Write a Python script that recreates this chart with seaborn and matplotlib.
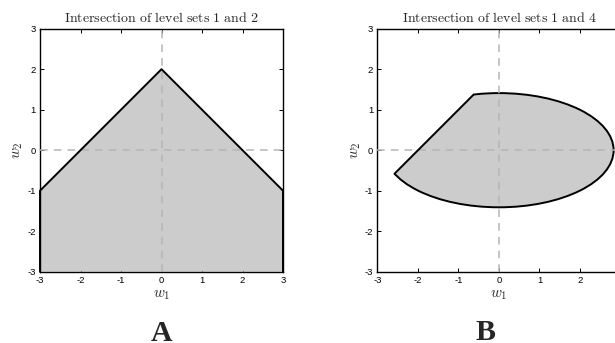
import numpy as np
import matplotlib
matplotlib.use("Agg")
import matplotlib.pyplot as plt
import seaborn as sns
from matplotlib.patches import Ellipse, Polygon

# ---- data ----
# Panel A: boundary of the intersection region (w1, w2 vertices)
a_w1 = [-3, -3, 0, 3, 3]
a_w2 = [-3, -1, 2, -1, -3]
# Panel B: ellipse (centre, semi-axes) cut by a straight line
b_center = (0.0, 0.0)
b_semi_w1 = 2.83
b_semi_w2 = 1.41
b_cut_w1 = [-2.58, -0.62]
b_cut_w2 = [-0.58, 1.38]

ticks = [-3, -2, -1, 0, 1, 2, 3]
tick_labels = ["-3", "-2", "-1", "0", "1", "2", "3"]
titles = ["Intersection of level sets 1 and 2", "Intersection of level sets 1 and 4"]
panel_letters = ["A", "B"]

sns.set_style("ticks")
plt.rcParams["mathtext.fontset"] = "cm"
plt.rcParams["font.family"] = ["Liberation Sans", "DejaVu Sans"]

W, H = 615, 343
fig = plt.figure(figsize=(W / 100, H / 100), dpi=100)

fill_c = "#cccccc"
dash_c = "#b5b5b5"

def px_axes(left, top, w, h):
    return fig.add_axes([left / W, 1 - (top + h) / H, w / W, h / H])

axA = px_axes(40, 28.7, 243, 243)
axB = px_axes(377.5, 28.7, 243, 243)

for ax, title in zip([axA, axB], titles):
    ax.set_xlim(-3, 3)
    ax.set_ylim(-3, 3)
    ax.set_xticks(ticks)
    ax.set_xticklabels(tick_labels)
    ax.set_yticks(ticks)
    ax.set_yticklabels(tick_labels)
    ax.tick_params(direction="in", length=3, width=0.7, top=True, right=True,
                   labelsize=6.8, pad=3, colors="black")
    for s in ax.spines.values():
        s.set_linewidth(1.0)
        s.set_color("black")
    ax.axhline(0, color=dash_c, lw=1.1, ls=(0, (5, 4)), zorder=3)
    ax.axvline(0, color=dash_c, lw=1.1, ls=(0, (5, 4)), zorder=3)
    ax.set_title(r"$\mathrm{" + title.replace(" ", r"\ ") + "}$", fontsize=10, pad=5)
    ax.set_xlabel(r"$w_1$", fontsize=11, labelpad=2)
    ax.set_ylabel(r"$w_2$", fontsize=11, labelpad=1.5)

# Panel A
axA.fill(a_w1, a_w2, color=fill_c, zorder=2, lw=0)
sns.lineplot(x=a_w1, y=a_w2, sort=False, estimator=None,
             color="black", lw=1.4, ax=axA, zorder=4, clip_on=False)

# Panel B
p0 = np.array([b_cut_w1[0], b_cut_w2[0]])
p1 = np.array([b_cut_w1[1], b_cut_w2[1]])
d = p1 - p0
far0 = p0 - 10 * d
far1 = p1 + 10 * d
normal = np.array([d[1], -d[0]])
clip_verts = [far0, far1, far1 + 10 * normal, far0 + 10 * normal]
clip_poly = Polygon(clip_verts, closed=True, transform=axB.transData)
ell = Ellipse(b_center, 2 * b_semi_w1, 2 * b_semi_w2, facecolor=fill_c,
              edgecolor="black", lw=1.4, zorder=2)
axB.add_patch(ell)
ell.set_clip_path(clip_poly)
sns.lineplot(x=b_cut_w1, y=b_cut_w2, sort=False, estimator=None,
             color="black", lw=1.4, ax=axB, zorder=4)

for ax in (axA, axB):
    leg = ax.get_legend()
    if leg:
        leg.remove()

fig.text(162 / W, 1 - 341 / H, panel_letters[0], ha="center", va="baseline",
         fontsize=21.5, fontweight="bold", family="Liberation Serif")
fig.text(486 / W, 1 - 339.5 / H, panel_letters[1], ha="center", va="baseline",
         fontsize=21.5, fontweight="bold", family="Liberation Serif")

fig.savefig("out.png", dpi=100)
